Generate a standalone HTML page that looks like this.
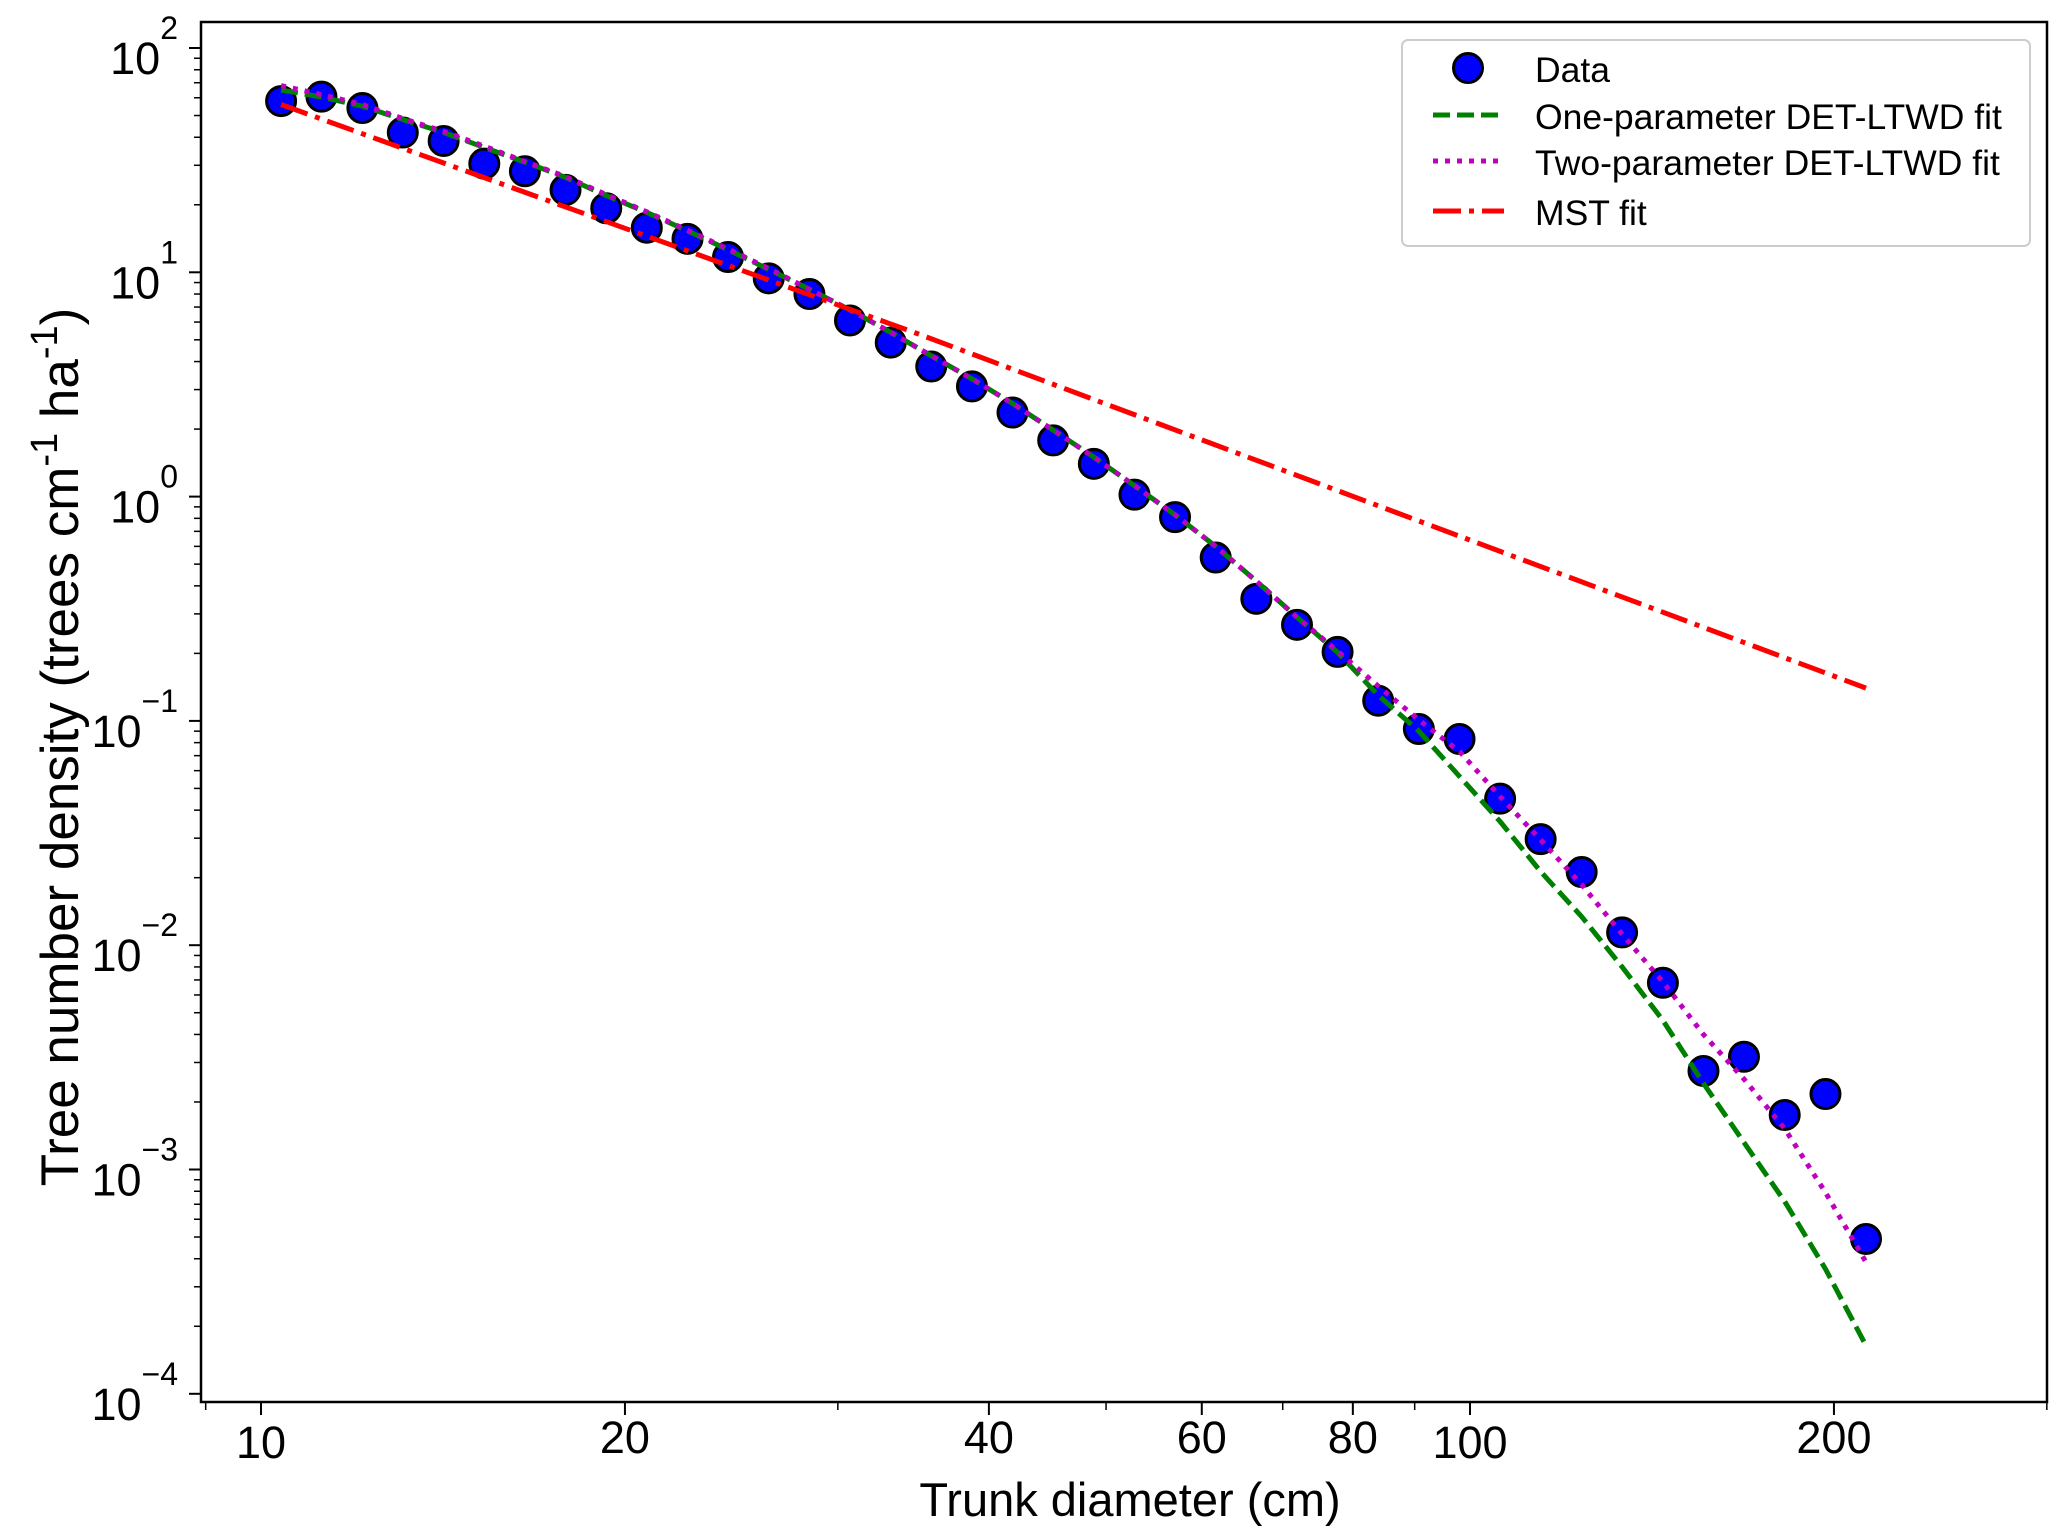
<!DOCTYPE html>
<html><head><meta charset="utf-8"><style>
body{margin:0;background:#fff}
svg{display:block;font-family:"Liberation Sans",Arial,sans-serif}
</style></head><body>
<svg id="chart" width="2067" height="1540" viewBox="0 0 2067 1540">
</svg>
<script>
const diameters=[10.39,11.22,12.13,13.10,14.16,15.30,16.53,17.86,19.30,20.85,22.53,24.34,26.30,28.42,30.70,33.18,35.84,38.73,41.84,45.21,48.85,52.78,57.02,61.61,66.57,71.93,77.71,83.96,90.72,98.03,105.9,114.4,123.7,133.6,144.4,156.0,168.5,182.1,196.8,212.6];
const density=[58,60.7,54,42,38.5,30.5,28.2,23.3,19.3,15.8,14.1,11.7,9.4,8.0,6.1,4.86,3.8,3.1,2.37,1.78,1.40,1.02,0.81,0.535,0.35,0.268,0.203,0.123,0.092,0.083,0.045,0.0297,0.0212,0.0114,0.0068,0.00275,0.00318,0.00175,0.00217,0.00049];
const oneParam=[65,60.5,55,48,42,36,31,26.5,22,18.5,15.3,12.6,10.3,8.4,6.8,5.4,4.25,3.35,2.6,1.98,1.5,1.12,0.83,0.6,0.42,0.29,0.202,0.130,0.090,0.0565,0.0356,0.0213,0.0134,0.0080,0.00462,0.00242,0.00132,0.00072,0.00036,0.000164];
const twoParam=[68,62,56,48.5,42.5,36.5,31.2,26.7,22.2,18.6,15.4,12.7,10.4,8.4,6.8,5.4,4.25,3.35,2.6,1.98,1.5,1.12,0.83,0.6,0.42,0.29,0.205,0.143,0.101,0.073,0.046,0.0295,0.0186,0.0112,0.00686,0.0040,0.00253,0.00152,0.00079,0.000386];
const mstX=[10.39,35,212.6];
const mstY=[56,5.3,0.14];
const xTicks=[10,20,40,60,80,100,200];
const xMinor=[9,30,50,70,90,300];
const yTickExp=[2,1,0,-1,-2,-3,-4];

const L=201,R=2047,T=22,B=1402;
const X=v=>261+(Math.log10(v)-1)*1209;
const Y=v=>48+(2-Math.log10(v))*224.3;
const NS='http://www.w3.org/2000/svg';
const svg=document.getElementById('chart');
function mk(tag,attrs,parent){const e=document.createElementNS(NS,tag);for(const k in attrs)e.setAttribute(k,attrs[k]);(parent||svg).appendChild(e);return e;}

const frame=mk('rect',{x:L,y:T,width:R-L,height:B-T,fill:'none',stroke:'#000','stroke-width':2.5});



xTicks.forEach(t=>{
  const l=mk('line',{x1:X(t),x2:X(t),y1:B,y2:B+13,stroke:'#000','stroke-width':2});
  
  
  const tx=mk('text',{x:X(t),y:(t===10||t===100)?1458:1453,'font-size':45,'text-anchor':'middle'});
  tx.textContent=t;
  
  
});
xMinor.forEach(t=>{
  const l=mk('line',{x1:X(t),x2:X(t),y1:B,y2:B+8,stroke:'#000','stroke-width':1.5});
  
  
});
yTickExp.forEach(e=>{
  const y=Y(Math.pow(10,e));
  const l=mk('line',{x1:L-12,x2:L,y1:y,y2:y,stroke:'#000','stroke-width':2});
  
  
  const tx=mk('text',{x:178,y:y+26,'font-size':45,'text-anchor':'end'});
  tx.innerHTML='10<tspan dy="-35" font-size="32">'+String(e).replace('-','\u2212')+'</tspan>';
  
  
  for(let k=2;k<=9;k++){
    const yy=Y(Math.pow(10,e-1)*k);
    if(yy<T||yy>B)continue;
    const m=mk('line',{x1:L-7,x2:L,y1:yy,y2:yy,stroke:'#000','stroke-width':1.5});
    
    
  }
});

const xt=mk('text',{x:1130,y:1516,'font-size':47,'text-anchor':'middle'});
xt.textContent='Trunk diameter (cm)';


const yt=mk('text',{x:0,y:0,'font-size':53,'text-anchor':'middle',transform:'translate(78,747) rotate(-90)'});
yt.innerHTML='Tree number density (trees cm<tspan dy="-21" font-size="38">-1</tspan><tspan dy="21"> ha</tspan><tspan dy="-21" font-size="38">-1</tspan><tspan dy="21">)</tspan>';



function line(xv,yv,stroke,dash,name){
  const p=mk('polyline',{points:xv.map((x,i)=>X(x).toFixed(1)+','+Y(yv[i]).toFixed(1)).join(' '),fill:'none',stroke:stroke,'stroke-width':5,'stroke-dasharray':dash,'stroke-linejoin':'round'});
  
  
}
diameters.forEach((x,i)=>{
  const c=mk('circle',{cx:X(x),cy:Y(density[i]),r:14.5,fill:'#0000ff',stroke:'#000','stroke-width':3});
  
  
});
line(diameters,oneParam,'#008000','17 7','one-parameter-fit-line');
line(diameters,twoParam,'#bf00bf','5 7','two-parameter-fit-line');
line(mstX,mstY,'#ff0000','28 8 5 8','mst-fit-line');

const lg=mk('g',{});


mk('rect',{x:1402,y:40,width:628,height:206,rx:6,fill:'#fff',stroke:'#ccc','stroke-width':2},lg);
const entries=[['Data',70],['One-parameter DET-LTWD fit',117],['Two-parameter DET-LTWD fit',163],['MST fit',213]];
const lc=mk('circle',{cx:1468,cy:68,r:14.5,fill:'#0000ff',stroke:'#000','stroke-width':3},lg);


[['#008000','17 7'],['#bf00bf','5 7'],['#ff0000','28 8 5 8']].forEach((s,i)=>{
  const yy=entries[i+1][1]-2;
  const l=mk('line',{x1:1433,x2:1504,y1:yy,y2:yy,stroke:s[0],'stroke-width':5,'stroke-dasharray':s[1]},lg);
  
  
});
entries.forEach(e=>{
  const t=mk('text',{x:1535,y:e[1]+12,'font-size':35.5},lg);
  t.textContent=e[0];
  
  
});
</script>
</body></html>
